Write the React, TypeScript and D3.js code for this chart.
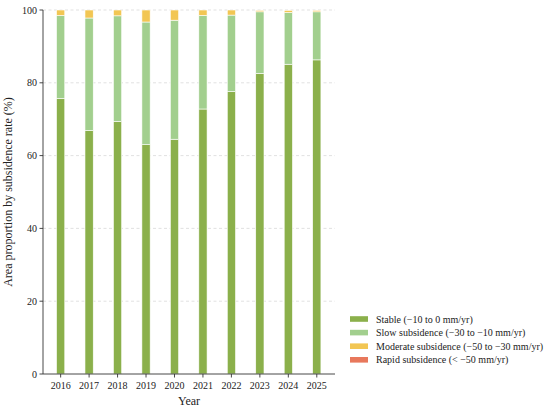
import React from 'react';
import * as d3 from 'd3';

// Chart data
const years = ['2016', '2017', '2018', '2019', '2020', '2021', '2022', '2023', '2024', '2025'];
const stable = [75.7, 66.9, 69.4, 63.0, 64.5, 72.8, 77.6, 82.6, 85.1, 86.3];
const slow = [22.8, 30.9, 29.0, 33.7, 32.7, 25.7, 21.0, 16.9, 14.2, 13.2];
const moderate = [1.5, 2.2, 1.6, 3.3, 2.8, 1.5, 1.4, 0.4, 0.6, 0.4];
const rapid = [0, 0, 0, 0, 0, 0, 0, 0, 0, 0];

const seriesNames = [
  'Stable (\u221210 to 0 mm/yr)',
  'Slow subsidence (\u221230 to \u221210 mm/yr)',
  'Moderate subsidence (\u221250 to \u221230 mm/yr)',
  'Rapid subsidence (< \u221250 mm/yr)',
];
const seriesColors = ['#8bb04b', '#a2cf8e', '#f2c653', '#e8785c'];
const yTicks = [0, 20, 40, 60, 80, 100];

const W = 550;
const H = 412;
const margin = { top: 10, right: 215, bottom: 38, left: 43 };
const FONT = '"Liberation Serif", "Times New Roman", serif';

export default function App() {
  const innerW = W - margin.left - margin.right;
  const innerH = H - margin.top - margin.bottom;

  const x = d3.scaleLinear().domain([-0.62, years.length - 1 + 0.64]).range([0, innerW]);
  const y = d3.scaleLinear().domain([0, 100]).range([innerH, 0]);
  const barW = x(0.29) - x(0);

  const rows = years.map((yr, i) => ({ yr, s0: stable[i], s1: slow[i], s2: moderate[i], s3: rapid[i] }));
  const stack = d3.stack<any>().keys(['s0', 's1', 's2', 's3'])(rows);

  return (
    <div style={{ position: 'absolute', left: 0, top: 0 }}>
      <svg width={W} height={H} style={{ display: 'block', background: '#fff' }}>
        <g transform={`translate(${margin.left},${margin.top})`} fontFamily={FONT}>
          {/* grid */}
          {yTicks.slice(1).map((t) => (
            <line key={t} x1={0} x2={innerW} y1={y(t)} y2={y(t)} stroke="#d9d9d9" strokeWidth={0.8} strokeDasharray="3,2.5" />
          ))}

          {/* stacked bars */}
          {stack.map((layer, li) => (
            <g key={li} fill={seriesColors[li]}>
              {layer.map((d: any, i: number) => {
                const h = y(d[0]) - y(d[1]);
                if (h <= 0) return null;
                return (
                  <rect
                    key={i}
                    x={x(i) - barW / 2}
                    y={y(d[1])}
                    width={barW}
                    height={h}
                    stroke="#ffffff"
                    strokeWidth={0.6}
                  />
                );
              })}
            </g>
          ))}

          {/* axes */}
          <line x1={0} x2={0} y1={0} y2={innerH} stroke="#333" strokeWidth={0.9} />
          <line x1={0} x2={innerW} y1={innerH} y2={innerH} stroke="#333" strokeWidth={0.9} />
          {yTicks.map((t) => (
            <g key={t} transform={`translate(0,${y(t)})`}>
              <line x1={-3.5} x2={0} stroke="#333" strokeWidth={0.9} />
              <text x={-6} dy="0.35em" textAnchor="end" fontSize={10} fill="#222">{t}</text>
            </g>
          ))}
          {years.map((yr, i) => (
            <g key={yr} transform={`translate(${x(i)},${innerH})`}>
              <line y1={0} y2={3.5} stroke="#333" strokeWidth={0.9} />
              <text y={15} textAnchor="middle" fontSize={10} fill="#222">{yr}</text>
            </g>
          ))}

          <text x={innerW / 2} y={innerH + 31} textAnchor="middle" fontSize={12} fill="#222">Year</text>
          <text
            transform={`translate(${-31},${innerH / 2}) rotate(-90)`}
            textAnchor="middle"
            fontSize={12}
            fill="#222"
          >
            Area proportion by subsidence rate (%)
          </text>
        </g>

        {/* legend */}
        <g transform="translate(350,319)" fontFamily={FONT}>
          {seriesNames.map((name, i) => (
            <g key={name} transform={`translate(0,${i * 13.6})`}>
              <rect x={0} y={-2.8} width={18} height={5.6} fill={seriesColors[i]} />
              <text x={26} dy="0.35em" fontSize={10} fill="#222">{name}</text>
            </g>
          ))}
        </g>
      </svg>
    </div>
  );
}
